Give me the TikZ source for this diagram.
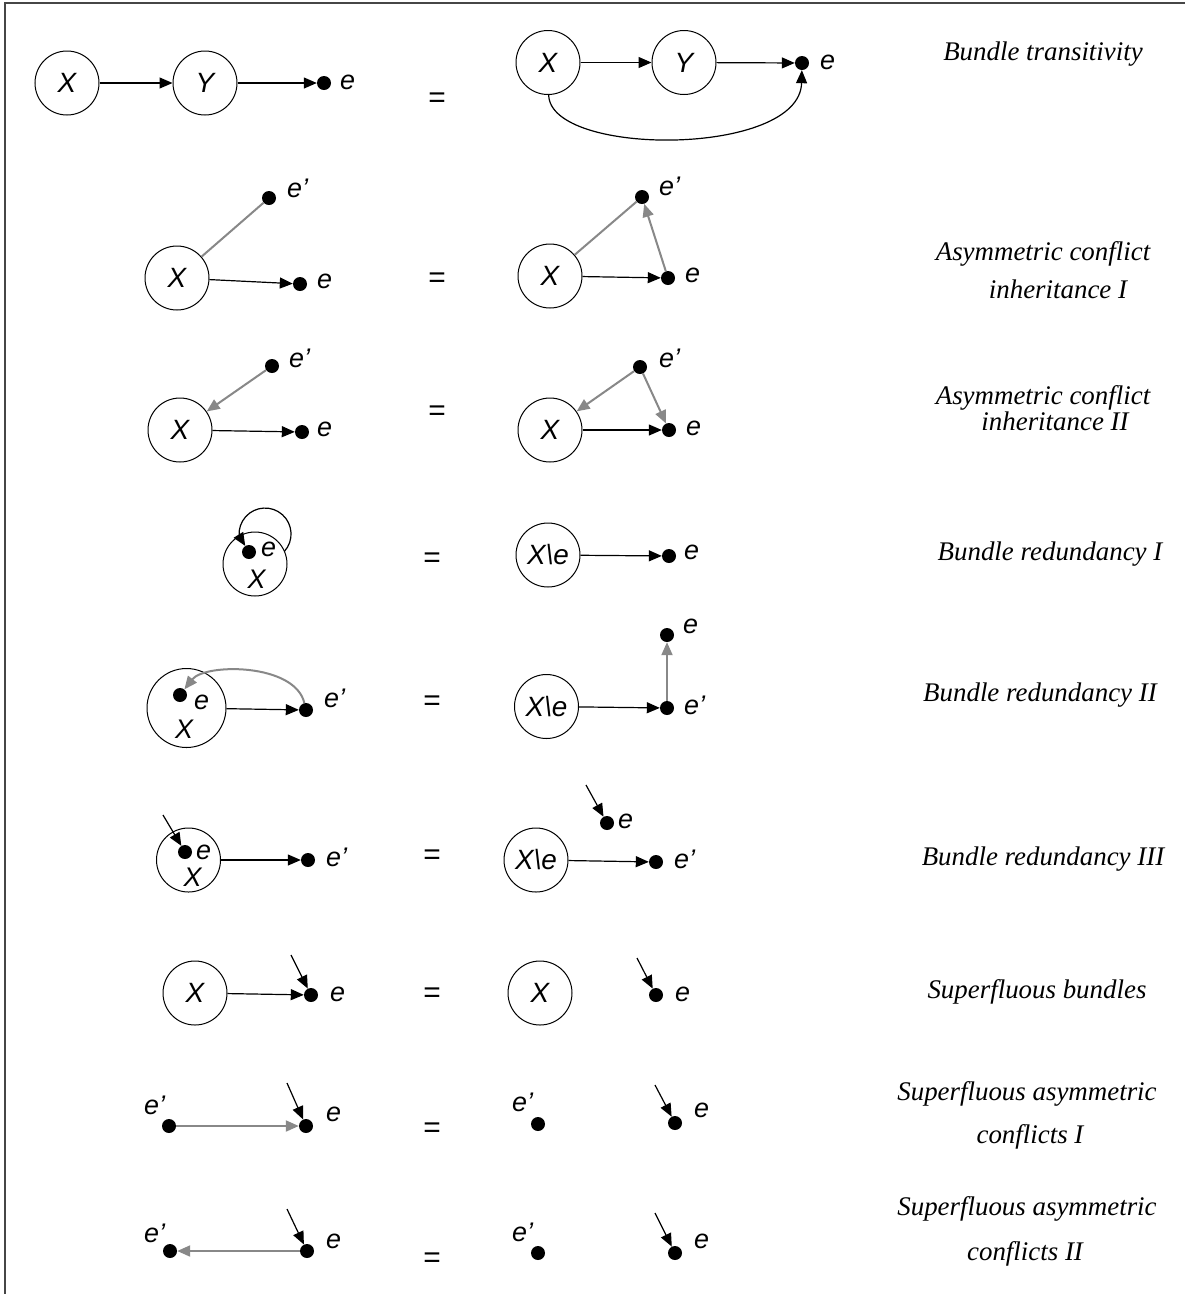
\documentclass[tikz,border=0pt]{standalone}
\usepackage{fontspec}
\setmainfont{Liberation Serif}
\setsansfont{Liberation Sans}
\usetikzlibrary{arrows.meta}
\definecolor{grayline}{RGB}{136,136,136}
\definecolor{framecol}{RGB}{70,70,70}
\begin{document}
\begin{tikzpicture}[x=1bp,y=-1bp,
  state/.style={draw, line width=1bp, circle, minimum size=64bp, inner sep=0pt,
    font=\sffamily\itshape\fontsize{28}{32}\selectfont},
  bigstate/.style={state, minimum size=79bp},
  ev/.style={circle, fill=black, inner sep=0pt, minimum size=14bp},
  lbl/.style={anchor=base west, inner sep=0pt, font=\sffamily\itshape\fontsize{27}{30}\selectfont},
  clbl/.style={lbl, anchor=base},
  eqs/.style={inner sep=0pt, font=\sffamily\fontsize{30}{34}\selectfont},
  rulename/.style={anchor=base, inner sep=0pt, font=\rmfamily\itshape\fontsize{27}{32}\selectfont},
  arr/.style={line width=1.2bp, -{Triangle[length=13bp,width=11bp]}},
  gline/.style={line width=2bp, color=grayline},
  garr/.style={gline, -{Triangle[length=13bp,width=11bp]}},
]
\useasboundingbox (0,0) rectangle (1185,1294);
% frame
\draw[line width=2bp, framecol] (5,1294) |- (1185,3);

% ---- Bundle transitivity
\node[state] (aX) at (67,83) {X};
\node[state] (aY) at (205,83) {Y};
\node[ev] (ae) at (324,83) {};
\node[lbl] (ael) at (340,89) {e};
\draw[arr] (aX) -- (aY);
\draw[arr] (aY) -- (ae);
\node[eqs] (eq1) at (437,100) {=};
\node[state] (bX) at (548,62.5) {X};
\node[state] (bY) at (684,62.5) {Y};
\node[ev] (be) at (802,63) {};
\node[lbl] (bel) at (820,69) {e};
\draw[arr] (bX) -- (bY);
\draw[arr] (bY) -- (be);
\draw[arr] (bX) .. controls (550,157) and (800,157) .. (be);
\node[rulename] (n1) at (1043,60) {Bundle transitivity};

% ---- Asymmetric conflict inheritance I
\node[state] (cX) at (177,278) {X};
\node[ev] (cep) at (269,198) {};
\node[ev] (ce) at (300,284) {};
\node[lbl] (cepl) at (287,197) {e’};
\node[lbl] (cel) at (317,288) {e};
\draw[gline] (cX) -- (cep);
\draw[arr] (cX) -- (ce);
\node[eqs] (eq2) at (437,280) {=};
\node[state] (dX) at (550,276) {X};
\node[ev] (dep) at (642,197) {};
\node[ev] (de) at (668,278) {};
\node[lbl] (depl) at (659,195) {e’};
\node[lbl] (del) at (685,282) {e};
\draw[gline] (dX) -- (dep);
\draw[garr] (de) -- (dep);
\draw[arr] (dX) -- (de);
\node[rulename] (n2a) at (1043,260) {Asymmetric conflict};
\node[rulename] (n2b) at (1058,298) {inheritance I};

% ---- Asymmetric conflict inheritance II
\node[state] (fX) at (180,430) {X};
\node[ev] (fep) at (272,366) {};
\node[ev] (fe) at (302,432) {};
\node[lbl] (fepl) at (289,367) {e’};
\node[lbl] (fel) at (317,436) {e};
\draw[garr] (fep) -- (fX);
\draw[arr] (fX) -- (fe);
\node[eqs] (eq3) at (437,413) {=};
\node[state] (gX) at (550,430) {X};
\node[ev] (gep) at (640,367) {};
\node[ev] (ge) at (669,430) {};
\node[lbl] (gepl) at (659,367) {e’};
\node[lbl] (gel) at (686,435) {e};
\draw[garr] (gep) -- (gX);
\draw[garr] (gep) -- (ge);
\draw[arr] (gX) -- (ge);
\node[rulename] (n3a) at (1043,404) {Asymmetric conflict};
\node[rulename] (n3b) at (1055,430) {inheritance II};

% ---- Bundle redundancy I
\node[state] (hX) at (255,564) {};
\node[ev] (hd) at (249,552) {};
\node[lbl] (hel) at (261,556) {e};
\node[clbl] (hXl) at (256.5,588) {X};
\draw[arr] (284.4,551.4) arc[start angle=41.9, end angle=-184.4, radius=26] -- (hd);
\node[eqs] (eq4) at (432,560) {=};
\node[state] (iX) at (548,555) {X\textbackslash e};
\node[ev] (ie) at (669,556) {};
\node[lbl] (iel) at (684,559) {e};
\draw[arr] (iX) -- (ie);
\node[rulename] (n4) at (1050,560) {Bundle redundancy I};

% ---- Bundle redundancy II
\node[bigstate] (jX) at (186.5,708) {};
\node[ev] (jd) at (180,695) {};
\node[lbl] (jel) at (194,709) {e};
\node[clbl] (jXl) at (184,738) {X};
\node[ev] (jep) at (306,710) {};
\node[lbl] (jepl) at (324,707) {e’};
\draw[arr] (jX) -- (jep);
\draw[garr] (jep) .. controls (295,663) and (205,663) .. (jd);
\node[eqs] (eq5) at (432,703) {=};
\node[state] (kX) at (546.5,706.5) {X\textbackslash e};
\node[ev] (kep) at (667,708) {};
\node[ev] (ke) at (667,635) {};
\node[lbl] (kepl) at (684,714) {e’};
\node[lbl] (kel) at (683,633) {e};
\draw[arr] (kX) -- (kep);
\draw[garr] (kep) -- (ke);
\node[rulename] (n5) at (1040,701) {Bundle redundancy II};

% ---- Bundle redundancy III
\node[state] (lX) at (188.5,860) {};
\node[ev] (ld) at (185,852) {};
\node[lbl] (lel) at (196,859) {e};
\node[clbl] (lXl) at (192.5,886) {X};
\coordinate (lin) at (163,815);
\draw[arr] (lin) -- (ld);
\node[ev] (lep) at (308,860) {};
\node[lbl] (lepl) at (326,866) {e’};
\draw[arr] (lX) -- (lep);
\node[eqs] (eq6) at (432,857) {=};
\node[state] (mX) at (536,860) {X\textbackslash e};
\node[ev] (mep) at (656,862) {};
\node[lbl] (mepl) at (674,868) {e’};
\node[ev] (me) at (607,823) {};
\node[lbl] (mel) at (618,828) {e};
\coordinate (min) at (586,785);
\draw[arr] (min) -- (me);
\draw[arr] (mX) -- (mep);
\node[rulename] (n6) at (1043,865) {Bundle redundancy III};

% ---- Superfluous bundles
\node[state] (nX) at (195,993) {X};
\node[ev] (ne) at (311,995) {};
\node[lbl] (nel) at (330,1001) {e};
\coordinate (nin) at (291,955);
\draw[arr] (nin) -- (ne);
\draw[arr] (nX) -- (ne);
\node[eqs] (eq7) at (432,995) {=};
\node[state] (oX) at (540,993) {X};
\node[ev] (oe) at (656,995) {};
\node[lbl] (oel) at (675,1001) {e};
\coordinate (oin) at (637,958);
\draw[arr] (oin) -- (oe);
\node[rulename] (n7) at (1037,998) {Superfluous bundles};

% ---- Superfluous asymmetric conflicts I
\node[ev] (pep) at (169,1126) {};
\node[ev] (pe) at (306,1126) {};
\node[lbl] (pepl) at (144,1114) {e’};
\node[lbl] (pel) at (326,1121) {e};
\draw[garr] (pep) -- (pe);
\coordinate (pin) at (287,1083);
\draw[arr] (pin) -- (pe);
\node[eqs] (eq8) at (432,1130) {=};
\node[ev] (qep) at (538,1124) {};
\node[ev] (qe) at (675,1123) {};
\node[lbl] (qepl) at (512,1111) {e’};
\node[lbl] (qel) at (694,1117) {e};
\coordinate (qin) at (655,1085);
\draw[arr] (qin) -- (qe);
\node[rulename] (n8a) at (1027,1100) {Superfluous asymmetric};
\node[rulename] (n8b) at (1030,1143) {conflicts I};

% ---- Superfluous asymmetric conflicts II
\node[ev] (rep) at (170,1251) {};
\node[ev] (re) at (307,1251) {};
\node[lbl] (repl) at (144,1242) {e’};
\node[lbl] (rel) at (326,1248) {e};
\draw[garr] (re) -- (rep);
\coordinate (rin) at (287,1209);
\draw[arr] (rin) -- (re);
\node[eqs] (eq9) at (432,1260) {=};
\node[ev] (sep) at (538,1253) {};
\node[ev] (se) at (675,1253) {};
\node[lbl] (sepl) at (512,1241) {e’};
\node[lbl] (sel) at (694,1248) {e};
\coordinate (sin) at (655,1213);
\draw[arr] (sin) -- (se);
\node[rulename] (n9a) at (1027,1215) {Superfluous asymmetric};
\node[rulename] (n9b) at (1025,1260) {conflicts II};
\end{tikzpicture}
\end{document}
